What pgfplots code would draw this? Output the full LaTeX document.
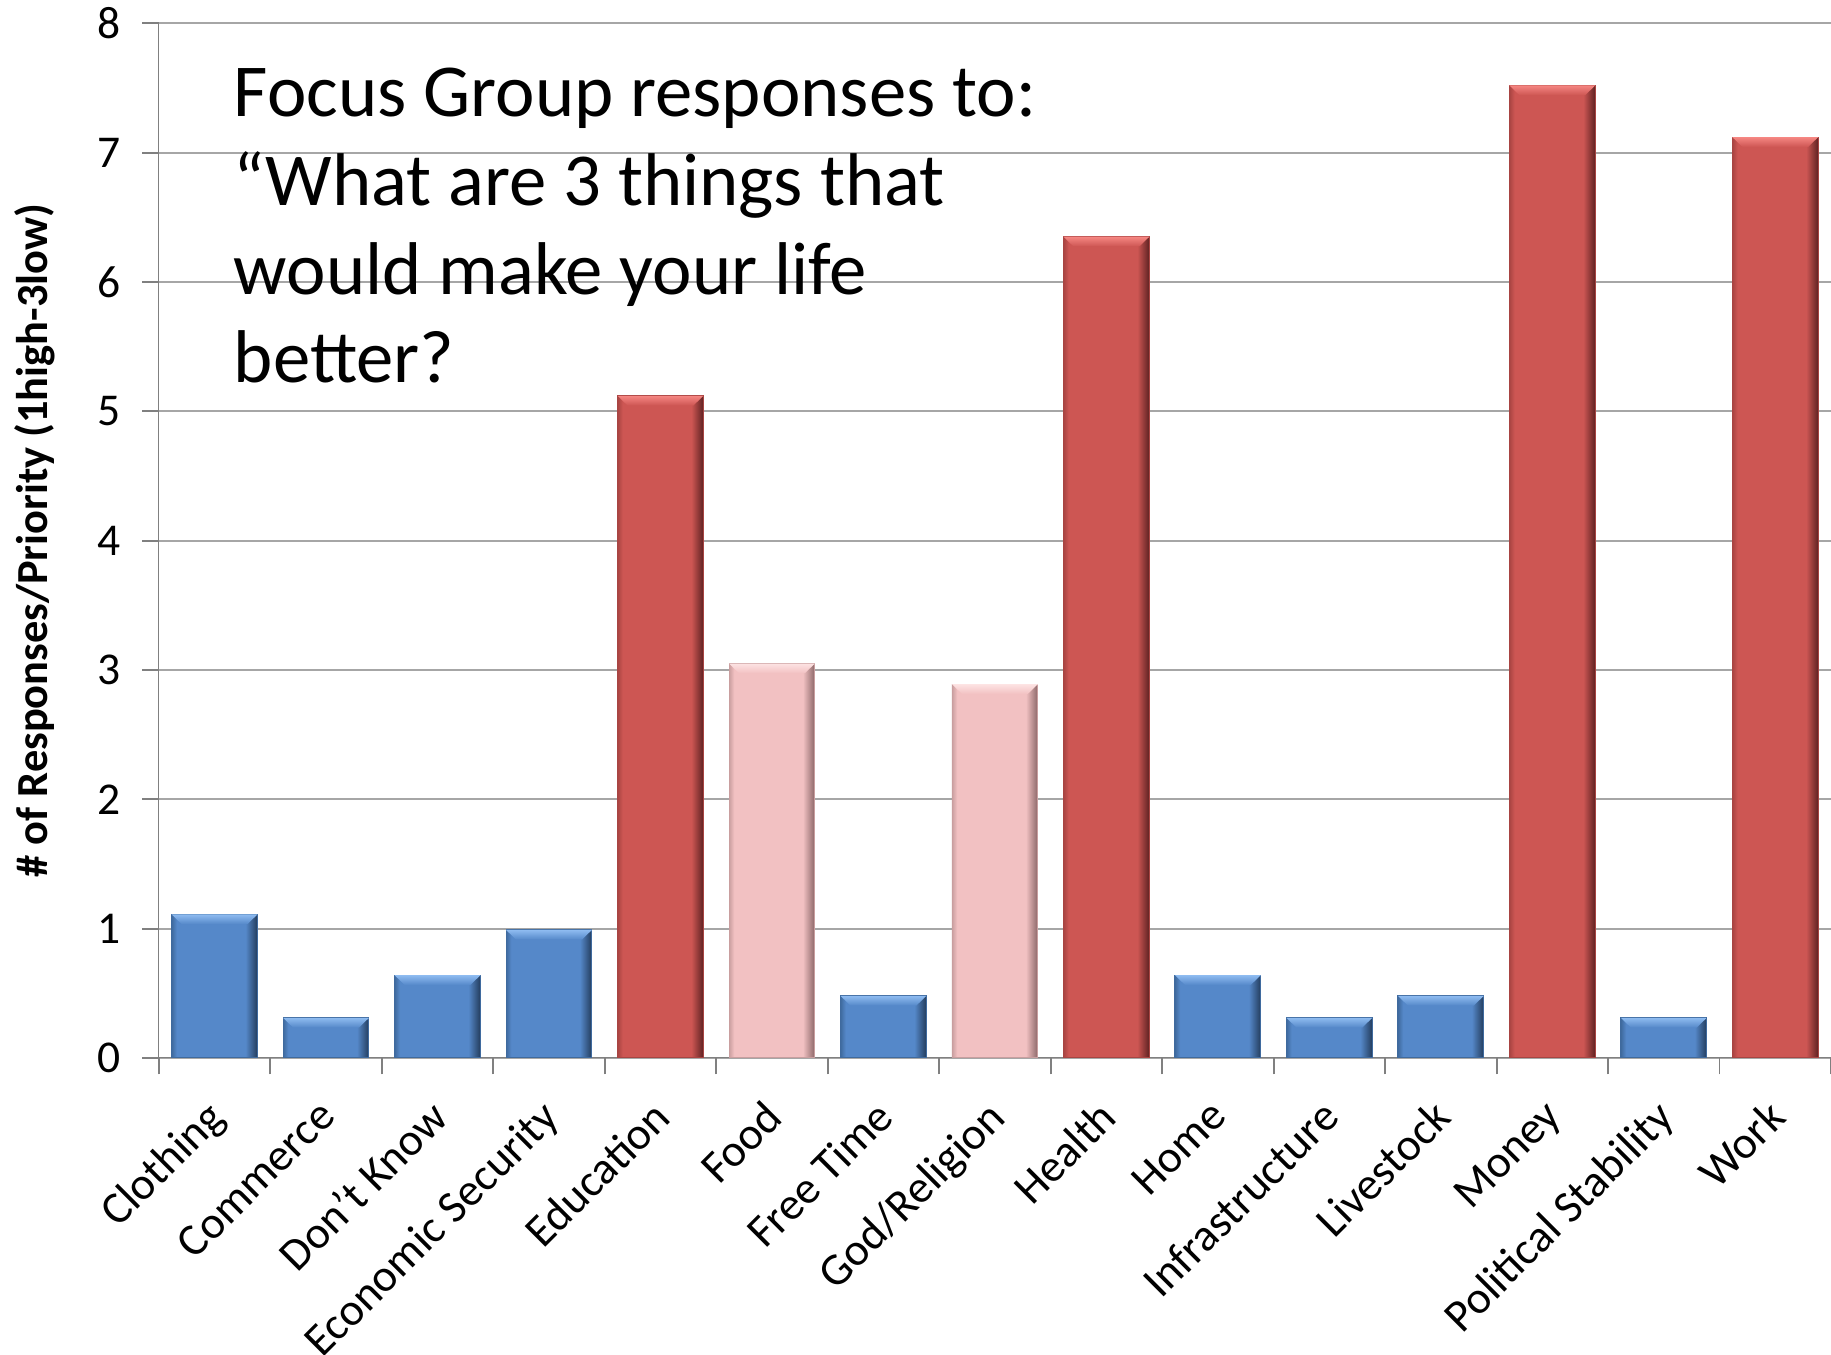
\documentclass[border=0pt]{standalone}
\usepackage{fontspec}
\setmainfont{Carlito}
\usepackage{pgfplots}
\pgfplotsset{compat=1.18}
\definecolor{barblue}{HTML}{5588C9}
\definecolor{blueedge}{HTML}{3F6A9E}
\definecolor{bluedark}{HTML}{233C5C}
\definecolor{bluecap}{HTML}{8EBBF0}
\definecolor{barred}{HTML}{CD5653}
\definecolor{rededge}{HTML}{A84442}
\definecolor{reddark}{HTML}{5E2222}
\definecolor{redcap}{HTML}{F58682}
\definecolor{barpink}{HTML}{F2C1C2}
\definecolor{pinkedge}{HTML}{C99E9F}
\definecolor{pinkdark}{HTML}{8A6667}
\definecolor{pinkcap}{HTML}{FDE3E3}
\definecolor{gridgray}{HTML}{A6A6A6}
\pgfdeclarehorizontalshading{blueshade}{100bp}{color(0bp)=(blueedge); color(25bp)=(blueedge); color(28bp)=(barblue); color(68bp)=(barblue); color(75bp)=(bluedark); color(100bp)=(bluedark)}
\pgfdeclarehorizontalshading{redshade}{100bp}{color(0bp)=(rededge); color(25bp)=(rededge); color(28bp)=(barred); color(68bp)=(barred); color(75bp)=(reddark); color(100bp)=(reddark)}
\pgfdeclarehorizontalshading{pinkshade}{100bp}{color(0bp)=(pinkedge); color(25bp)=(pinkedge); color(28bp)=(barpink); color(68bp)=(barpink); color(75bp)=(pinkdark); color(100bp)=(pinkdark)}
\pgfplotsset{
  bluebar/.style={ybar, bar shift=0pt, draw=blueedge, line width=0.4pt, shade, shading=blueshade},
  redbar/.style={ybar, bar shift=0pt, draw=rededge, line width=0.4pt, shade, shading=redshade},
  pinkbar/.style={ybar, bar shift=0pt, draw=pinkedge, line width=0.4pt, shade, shading=pinkshade},
  bluecapst/.style={draw=none, top color=bluecap, bottom color=barblue},
  redcapst/.style={draw=none, top color=redcap, bottom color=barred},
  pinkcapst/.style={draw=none, top color=pinkcap, bottom color=barpink},
}
\begin{document}
\begin{tikzpicture}
\begin{axis}[
  scale only axis,
  width=716pt, height=443pt,
  xmin=-0.5, xmax=14.5,
  ymin=0, ymax=8,
  axis x line*=bottom, axis y line*=left,
  axis line style={draw=gray, -},
  ytick={0,...,8},
  ymajorgrids,
  grid style={draw=gridgray, line width=0.8pt},
  xtick={0,...,14},
  xticklabels={Clothing,Commerce,Don't Know,Economic Security,Education,Food,Free Time,God/Religion,Health,Home,Infrastructure,Livestock,Money,Political Stability,Work},
  minor xtick={-0.5,0.5,...,14.5},
  tick align=outside,
  major x tick style={draw=none},
  minor x tick style={draw=gray, line width=0.8pt},
  y tick style={draw=gray, line width=0.8pt},
  major tick length=7pt, minor tick length=7pt,
  tick label style={font=\fontsize{19.5}{23}\selectfont},
  /pgf/number format/assume math mode=true,
  yticklabel style={xshift=-6pt},
  xticklabel style={rotate=45, anchor=north east, xshift=-6.6pt, yshift=-0.6pt},
  ylabel={\# of Responses/Priority (1high-3low)},
  ylabel style={font=\bfseries\fontsize{19}{22}\selectfont, at={(axis description cs:-0.074,0.5)}, anchor=center},
  bar width=0.77,
  clip=false,
]
% bars
\addplot[bluebar] coordinates {(0,1.11)};
\addplot[bluebar] coordinates {(1,0.31)};
\addplot[bluebar] coordinates {(2,0.64)};
\addplot[bluebar] coordinates {(3,0.99)};
\addplot[redbar]  coordinates {(4,5.12)};
\addplot[pinkbar] coordinates {(5,3.05)};
\addplot[bluebar] coordinates {(6,0.48)};
\addplot[pinkbar] coordinates {(7,2.89)};
\addplot[redbar]  coordinates {(8,6.35)};
\addplot[bluebar] coordinates {(9,0.64)};
\addplot[bluebar] coordinates {(10,0.31)};
\addplot[bluebar] coordinates {(11,0.48)};
\addplot[redbar]  coordinates {(12,7.52)};
\addplot[bluebar] coordinates {(13,0.31)};
\addplot[redbar]  coordinates {(14,7.12)};
% bevel caps
\addplot[bluecapst] coordinates {(-0.385,1.11) (0.385,1.11) (0.295,1.035) (-0.295,1.035)} -- cycle;
\addplot[bluecapst] coordinates {(0.615,0.31) (1.385,0.31) (1.295,0.235) (0.705,0.235)} -- cycle;
\addplot[bluecapst] coordinates {(1.615,0.64) (2.385,0.64) (2.295,0.565) (1.705,0.565)} -- cycle;
\addplot[bluecapst] coordinates {(2.615,0.99) (3.385,0.99) (3.295,0.915) (2.705,0.915)} -- cycle;
\addplot[redcapst]  coordinates {(3.615,5.12) (4.385,5.12) (4.295,5.045) (3.705,5.045)} -- cycle;
\addplot[pinkcapst] coordinates {(4.615,3.05) (5.385,3.05) (5.295,2.975) (4.705,2.975)} -- cycle;
\addplot[bluecapst] coordinates {(5.615,0.48) (6.385,0.48) (6.295,0.405) (5.705,0.405)} -- cycle;
\addplot[pinkcapst] coordinates {(6.615,2.89) (7.385,2.89) (7.295,2.815) (6.705,2.815)} -- cycle;
\addplot[redcapst]  coordinates {(7.615,6.35) (8.385,6.35) (8.295,6.275) (7.705,6.275)} -- cycle;
\addplot[bluecapst] coordinates {(8.615,0.64) (9.385,0.64) (9.295,0.565) (8.705,0.565)} -- cycle;
\addplot[bluecapst] coordinates {(9.615,0.31) (10.385,0.31) (10.295,0.235) (9.705,0.235)} -- cycle;
\addplot[bluecapst] coordinates {(10.615,0.48) (11.385,0.48) (11.295,0.405) (10.705,0.405)} -- cycle;
\addplot[redcapst]  coordinates {(11.615,7.52) (12.385,7.52) (12.295,7.445) (11.705,7.445)} -- cycle;
\addplot[bluecapst] coordinates {(12.615,0.31) (13.385,0.31) (13.295,0.235) (12.705,0.235)} -- cycle;
\addplot[redcapst]  coordinates {(13.615,7.12) (14.385,7.12) (14.295,7.045) (13.705,7.045)} -- cycle;
\node[anchor=base west, inner sep=0, font=\fontsize{32}{38}\selectfont] at (axis cs:0.17,7.28) {Focus Group responses to:};
\node[anchor=base west, inner sep=0, font=\fontsize{32}{38}\selectfont] at (axis cs:0.17,6.59) {“What are 3 things that};
\node[anchor=base west, inner sep=0, font=\fontsize{32}{38}\selectfont] at (axis cs:0.17,5.905) {would make your life};
\node[anchor=base west, inner sep=0, font=\fontsize{32}{38}\selectfont] at (axis cs:0.17,5.22) {better?};
\end{axis}
\pgfresetboundingbox
\path ([shift={(-68pt,-127pt)}]current axis.south west) rectangle ([shift={(0pt,10pt)}]current axis.north east);
\end{tikzpicture}
\end{document}
